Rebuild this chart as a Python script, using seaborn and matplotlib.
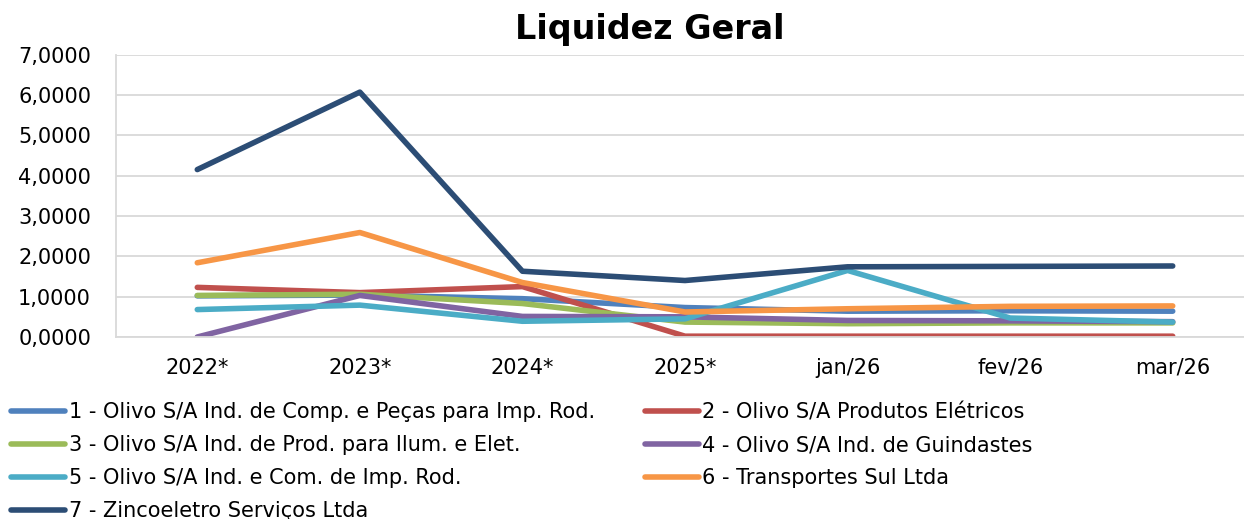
import matplotlib
matplotlib.use("Agg")
import matplotlib.pyplot as plt
import seaborn as sns
import pandas as pd
from matplotlib.ticker import FuncFormatter, FixedLocator

periods = ["2022*", "2023*", "2024*", "2025*", "jan/26", "fev/26", "mar/26"]

series_names = [
    "1 - Olivo S/A Ind. de Comp. e Peças para Imp. Rod.",
    "2 - Olivo S/A Produtos Elétricos",
    "3 - Olivo S/A Ind. de Prod. para Ilum. e Elet.",
    "4 - Olivo S/A Ind. de Guindastes",
    "5 - Olivo S/A Ind. e Com. de Imp. Rod.",
    "6 - Transportes Sul Ltda",
    "7 - Zincoeletro Serviços Ltda",
]

comp_pecas = [1.02, 1.04, 0.95, 0.73, 0.64, 0.65, 0.64]
prod_eletricos = [1.23, 1.10, 1.25, 0.02, 0.02, 0.02, 0.02]
ilum_elet = [1.03, 1.06, 0.83, 0.37, 0.33, 0.35, 0.35]
guindastes = [0.00, 1.03, 0.51, 0.50, 0.41, 0.40, 0.38]
imp_rod = [0.68, 0.79, 0.39, 0.45, 1.65, 0.47, 0.37]
transportes = [1.84, 2.59, 1.35, 0.62, 0.70, 0.76, 0.77]
zincoeletro = [4.15, 6.07, 1.63, 1.40, 1.74, 1.75, 1.76]

colors = ["#4F81BD", "#C0504D", "#9BBB59", "#8064A2", "#4BACC6", "#F79646", "#2C4D75"]

values = [comp_pecas, prod_eletricos, ilum_elet, guindastes, imp_rod, transportes, zincoeletro]
df = pd.DataFrame(
    [(name, p, v) for name, vals in zip(series_names, values) for p, v in zip(periods, vals)],
    columns=["empresa", "periodo", "valor"],
)

sns.set_style("white")
plt.rcParams["font.family"] = ["DejaVu Sans"]
plt.rcParams["text.color"] = "black"
plt.rcParams["xtick.labelcolor"] = "black"
plt.rcParams["ytick.labelcolor"] = "black"

fig = plt.figure(figsize=(12.44, 5.19), dpi=100)
ax = fig.add_axes([116 / 1244, 1 - 337 / 519, 1138 / 1244, (337 - 54.6) / 519])

sns.lineplot(
    data=df, x="periodo", y="valor", hue="empresa", hue_order=series_names,
    palette=colors, linewidth=4.0, sort=False, ax=ax, legend=False,
    solid_capstyle="round",
)

grid_c = "#D9D9D9"
ax.set_ylim(0, 7)
ax.set_xlim(-0.5, len(periods) - 0.5)
ax.set_yticks(range(0, 8))
ax.yaxis.set_major_formatter(FuncFormatter(lambda v, p: f"{v:.4f}".replace(".", ",")))
ax.grid(axis="y", color=grid_c, linewidth=1.3)
ax.set_axisbelow(True)
ax.set_xlabel("")
ax.set_ylabel("")

ax.set_xticks(range(len(periods)))
ax.set_xticklabels(periods)
ax.xaxis.set_minor_locator(FixedLocator([i - 0.5 for i in range(len(periods) + 1)]))
ax.tick_params(axis="x", which="major", length=0, pad=15, labelsize=15)
ax.tick_params(axis="x", which="minor", length=6, width=1.3, color=grid_c, direction="out")
ax.tick_params(axis="y", which="major", length=5, width=1.3, color=grid_c, direction="out",
               labelsize=15, pad=13)

for side in ["top", "right"]:
    ax.spines[side].set_visible(False)
for side in ["left", "bottom"]:
    ax.spines[side].set_color(grid_c)
    ax.spines[side].set_linewidth(1.3)

fig.text(650 / 1244, 1 - 30 / 519, "Liquidez Geral", ha="center", va="center",
         fontsize=24, fontweight="bold")

# legend reads row by row: fill columns with odd then even entries
order = [0, 2, 4, 6, 1, 3, 5]
handles = [plt.Line2D([], [], color=colors[i], linewidth=4.0, solid_capstyle="round") for i in order]
labels = [series_names[i] for i in order]
fig.legend(
    handles, labels, ncol=2, loc="upper left",
    bbox_to_anchor=(5 / 1244, 1 - 396 / 519), frameon=False, fontsize=15,
    handlelength=2.6, handletextpad=0.15, labelspacing=0.62, columnspacing=2.4,
    borderaxespad=0, borderpad=0.3,
)

fig.savefig("out.png", dpi=100)
